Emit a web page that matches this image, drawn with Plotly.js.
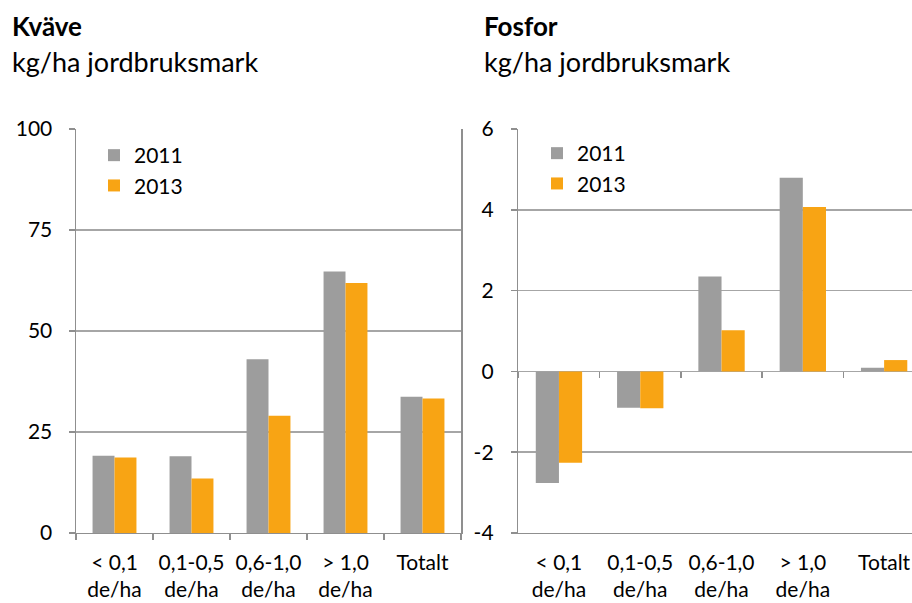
<!DOCTYPE html>
<html>
<head>
<meta charset="utf-8">
<script src="https://cdn.plot.ly/plotly-3.0.1.min.js"></script>
<style>
html,body{margin:0;padding:0;background:#fff;overflow:hidden;}
#chart{width:912px;height:603px;}
</style>
</head>
<body>
<div id="chart"></div>
<script>
const categories = ['&lt; 0,1<br>de/ha', '0,1-0,5<br>de/ha', '0,6-1,0<br>de/ha', '&gt; 1,0<br>de/ha', 'Totalt'];
const seriesNames = ['2011', '2013'];
const kvave2011 = [19.1, 19.0, 43.0, 64.7, 33.7];
const kvave2013 = [18.7, 13.5, 29.0, 61.9, 33.3];
const fosfor2011 = [-2.76, -0.90, 2.35, 4.79, 0.09];
const fosfor2013 = [-2.26, -0.91, 1.02, 4.07, 0.28];
const kvaveTicks = [0, 25, 50, 75, 100];
const fosforTicks = [-4, -2, 0, 2, 4, 6];
const fosforTickLabels = ['-4', '-2', '0', '2', '4', '6'];

const GRAY = '#9d9d9d';
const ORANGE = '#f8a414';
const FONT = 'Lato, sans-serif';
const GRID = '#a6a6a6';
const LINE = '#8f8f8f';
const TS = 21;

const traces = [
  {type: 'bar', name: seriesNames[0], x: categories, y: kvave2011, marker: {color: GRAY}, xaxis: 'x', yaxis: 'y', legend: 'legend'},
  {type: 'bar', name: seriesNames[1], x: categories, y: kvave2013, marker: {color: ORANGE}, xaxis: 'x', yaxis: 'y', legend: 'legend'},
  {type: 'bar', name: seriesNames[0], x: categories, y: fosfor2011, marker: {color: GRAY}, xaxis: 'x2', yaxis: 'y2', legend: 'legend2'},
  {type: 'bar', name: seriesNames[1], x: categories, y: fosfor2013, marker: {color: ORANGE}, xaxis: 'x2', yaxis: 'y2', legend: 'legend2'},
  {type: 'scatter', mode: 'none', x: categories, y: categories.map(() => null), xaxis: 'x3', yaxis: 'y2', showlegend: false, hoverinfo: 'skip'}
];

const yDom = [0.1161, 0.7861];
const zeroPos = yDom[0] + (0 - (-4)) / 10 * (yDom[1] - yDom[0]);

const layout = {
  width: 912, height: 603,
  margin: {l: 0, r: 0, t: 0, b: 0},
  paper_bgcolor: '#fff', plot_bgcolor: '#fff',
  font: {family: FONT, size: TS, color: '#000'},
  barmode: 'group', bargap: 0.43, bargroupgap: 0,
  xaxis: {
    domain: [76/912, 461/912], anchor: 'y', type: 'category', range: [-0.5, 4.5],
    showline: true, linecolor: LINE, linewidth: 1.5,
    ticks: 'outside', tickson: 'boundaries', ticklen: 6, tickcolor: LINE, tickwidth: 1.5,
    showgrid: false, tickfont: {size: TS}, ticklabelstandoff: 10
  },
  yaxis: {
    domain: yDom, anchor: 'x', range: [0, 100], tickvals: kvaveTicks,
    showline: true, mirror: true, linecolor: LINE, linewidth: 1.5,
    ticks: 'outside', ticklen: 6, tickcolor: LINE, tickwidth: 1.5,
    showgrid: true, gridcolor: GRID, gridwidth: 1.5, zeroline: false,
    tickfont: {size: TS}, ticklabelstandoff: 12
  },
  xaxis2: {
    domain: [518.3/912, 1], anchor: 'y2', type: 'category', range: [-0.5, 4.343],
    showline: true, linecolor: LINE, linewidth: 1.5,
    ticks: '', showgrid: false, tickfont: {size: TS}, ticklabelstandoff: 10
  },
  xaxis3: {
    overlaying: 'x2', anchor: 'free', position: zeroPos, type: 'category', range: [-0.5, 4.343],
    showline: false, ticks: 'outside', tickson: 'boundaries', ticklen: 6, tickcolor: LINE, tickwidth: 1.5,
    showticklabels: false, showgrid: false
  },
  yaxis2: {
    domain: yDom, anchor: 'x2', range: [-4, 6], tickvals: fosforTicks, ticktext: fosforTickLabels,
    showline: true, linecolor: LINE, linewidth: 1.5,
    ticks: 'outside', ticklen: 6, tickcolor: LINE, tickwidth: 1.5,
    showgrid: true, gridcolor: GRID, gridwidth: 1.5, zeroline: false,
    tickfont: {size: TS}, ticklabelstandoff: 13
  },
  legend: {
    x: 94/912, y: 1 - 135/603, xanchor: 'left', yanchor: 'top',
    bgcolor: 'rgba(0,0,0,0)', font: {size: TS}, itemwidth: 30, tracegroupgap: 0
  },
  legend2: {
    x: 537/912, y: 1 - 133/603, xanchor: 'left', yanchor: 'top',
    bgcolor: 'rgba(0,0,0,0)', font: {size: TS}, itemwidth: 30, tracegroupgap: 0
  },
  annotations: [
    {xref: 'paper', yref: 'paper', x: 10/912, y: 1 - 26/603, xanchor: 'left', yanchor: 'middle', showarrow: false, text: '<b>Kväve</b>', font: {size: 26}},
    {xref: 'paper', yref: 'paper', x: 10/912, y: 1 - 62/603, xanchor: 'left', yanchor: 'middle', showarrow: false, text: 'kg/ha jordbruksmark', font: {size: 27}},
    {xref: 'paper', yref: 'paper', x: 482/912, y: 1 - 26/603, xanchor: 'left', yanchor: 'middle', showarrow: false, text: '<b>Fosfor</b>', font: {size: 26}},
    {xref: 'paper', yref: 'paper', x: 482/912, y: 1 - 62/603, xanchor: 'left', yanchor: 'middle', showarrow: false, text: 'kg/ha jordbruksmark', font: {size: 27}}
  ]
};

Plotly.newPlot('chart', traces, layout, {displayModeBar: false, staticPlot: true});
</script>
</body>
</html>
